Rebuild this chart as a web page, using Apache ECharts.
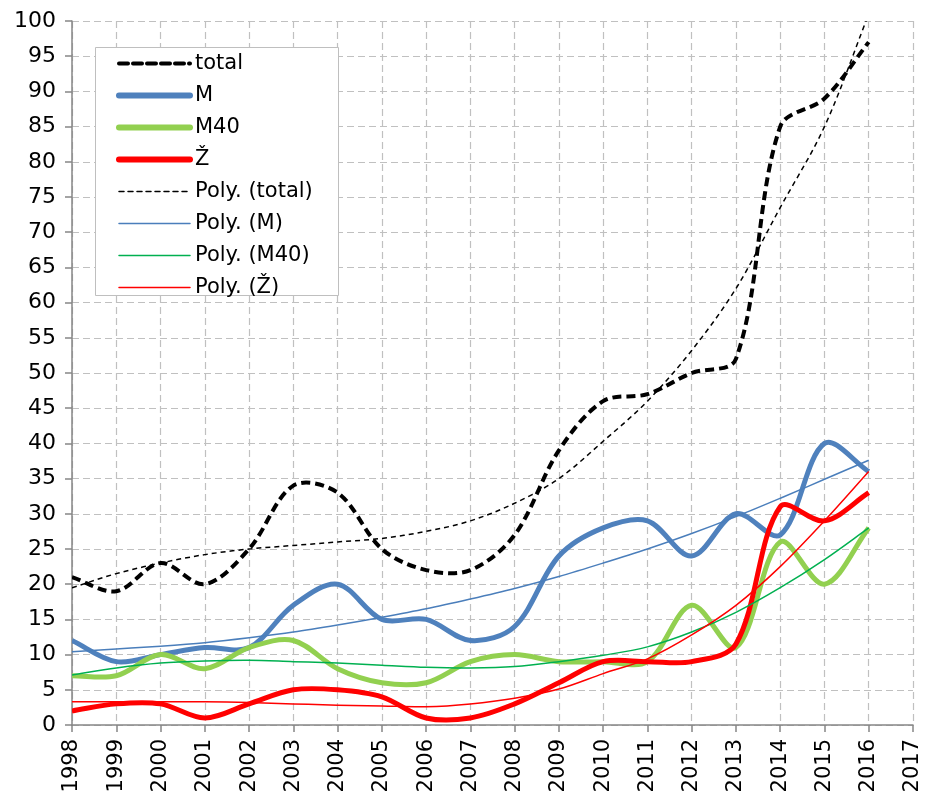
<!DOCTYPE html>
<html>
<head>
<meta charset="utf-8">
<script src="https://cdn.jsdelivr.net/npm/echarts@6/dist/echarts.min.js"></script>
<style>
  html, body { margin: 0; padding: 0; background: #fff; }
  #chart { width: 926px; height: 796px; }
</style>
</head>
<body>
<div id="chart"></div>
<script>
// years on the x axis (2017 has no data, only a tick)
const years = ['1998','1999','2000','2001','2002','2003','2004','2005','2006','2007',
  '2008','2009','2010','2011','2012','2013','2014','2015','2016','2017']

// values, 1998..2016
const total = [21, 19, 23, 20, 25, 34, 33, 25, 22, 22, 27, 39, 46, 47, 50, 52, 85, 89, 97]
const M     = [12, 9, 10, 11, 11, 17, 20, 15, 15, 12, 14, 24, 28, 29, 24, 30, 27, 40, 36]
const M40   = [7, 7, 10, 8, 11, 12, 8, 6, 6, 9, 10, 9, 9, 9, 17, 11, 26, 20, 28]
const Z     = [2, 3, 3, 1, 3, 5, 5, 4, 1, 1, 3, 6, 9, 9, 9, 11.5, 31, 29, 33]

// trend lines (Excel polynomial)
const polyTotal = [19.5, 21.5, 23, 24.2, 25, 25.5, 26, 26.5, 27.5, 29, 31.5, 35, 40.3, 46, 53.2, 62, 73.5, 85, 101]
const polyM     = [10.4, 10.8, 11.2, 11.7, 12.4, 13.2, 14.2, 15.3, 16.5, 17.9, 19.4, 21.1, 23, 25, 27.2, 29.6, 32.2, 34.9, 37.6]
const polyM40   = [7.1, 8.1, 8.8, 9.1, 9.2, 9.0, 8.8, 8.5, 8.2, 8.1, 8.3, 9.0, 9.9, 11.1, 13.2, 16, 19.5, 23.5, 28]
const polyZ     = [3.3, 3.3, 3.3, 3.3, 3.2, 3.0, 2.8, 2.7, 2.6, 3.0, 3.8, 5.1, 7.3, 9.4, 12.8, 17, 22.5, 29, 36]

const yTicks = { min: 0, max: 100, interval: 5 }

const font = 'DejaVu Sans'
const chart = echarts.init(document.getElementById('chart'), null, { renderer: 'canvas' })

function dist(a, b) {
  return Math.sqrt((a[0] - b[0]) * (a[0] - b[0]) + (a[1] - b[1]) * (a[1] - b[1]))
}

// Excel-like smoothed line: bezier through the points, tangent from the
// neighbours, weighted by segment lengths so long jumps do not overshoot
function curve(name, values, color, width, dash) {
  const t = 1 / 3
  return {
    name: name,
    type: 'custom',
    clip: true,
    silent: true,
    data: [[0, values[0]]],
    encode: { x: 0, y: 1 },
    renderItem(params, api) {
      const pts = values.map((v, i) => api.coord([i, v]))
      let d = 'M' + pts[0][0] + ',' + pts[0][1]
      for (let i = 0; i < pts.length - 1; i++) {
        const p0 = pts[i - 1] || pts[i]
        const p1 = pts[i]
        const p2 = pts[i + 1]
        const p3 = pts[i + 2] || p2
        const d01 = dist(p0, p1), d12 = dist(p1, p2), d23 = dist(p2, p3)
        const k1 = (d01 + d12) ? t * d12 / (d01 + d12) : 0
        const k2 = (d12 + d23) ? t * d12 / (d12 + d23) : 0
        const c1x = p1[0] + (p2[0] - p0[0]) * k1
        const c1y = p1[1] + (p2[1] - p0[1]) * k1
        const c2x = p2[0] - (p3[0] - p1[0]) * k2
        const c2y = p2[1] - (p3[1] - p1[1]) * k2
        d += ' C' + c1x + ',' + c1y + ' ' + c2x + ',' + c2y + ' ' + p2[0] + ',' + p2[1]
      }
      return {
        type: 'path',
        shape: { pathData: d },
        style: {
          fill: 'none', stroke: color, lineWidth: width,
          lineDash: dash || null, lineCap: 'butt', lineJoin: 'round'
        }
      }
    }
  }
}

// empty line series, only there so the legend gets line icons
function legendLine(name, color) {
  return {
    name: name, type: 'line', data: [], symbol: 'none',
    lineStyle: { color: color }, itemStyle: { color: color }
  }
}

const seriesDefs = [
  ['total', total, '#000000', 4, [9, 5]],
  ['M', M, '#4f81bd', 5, null],
  ['M40', M40, '#92d050', 5, null],
  ['Ž', Z, '#ff0000', 5, null],
  ['Poly. (total)', polyTotal, '#000000', 1.5, [5, 4]],
  ['Poly. (M)', polyM, '#4a7ebb', 1.5, null],
  ['Poly. (M40)', polyM40, '#00b050', 1.5, null],
  ['Poly. (Ž)', polyZ, '#ff0000', 1.5, null]
]

const series = []
seriesDefs.forEach(s => series.push(legendLine(s[0], s[2])))
seriesDefs.forEach(s => series.push(curve(s[0], s[1], s[2], s[3], s[4])))

chart.setOption({
  animation: false,
  textStyle: { fontFamily: font, color: '#000' },
  grid: { left: 72, right: 13, top: 21, bottom: 71, containLabel: false },
  graphic: [{
    type: 'rect',
    left: 95, top: 47, z: 50,
    shape: { width: 243, height: 248 },
    style: { fill: '#fff', stroke: '#bfbfbf', lineWidth: 1 }
  }],
  legend: {
    orient: 'vertical',
    left: 116, top: 53, z: 60,
    padding: 0,
    itemWidth: 71, itemHeight: 20, itemGap: 11,
    selectedMode: false,
    textStyle: { fontFamily: font, fontSize: 21, color: '#000', lineHeight: 20 },
    data: seriesDefs.map(s => ({
      name: s[0],
      itemStyle: { opacity: 0 },
      lineStyle: { width: s[3] === 5 ? 6 : s[3], type: s[4] || 'solid', color: s[2], cap: 'round' }
    }))
  },
  xAxis: {
    type: 'category',
    data: years,
    boundaryGap: false,
    axisLine: { lineStyle: { color: '#868686', width: 1.5 } },
    axisTick: { show: true, length: 7, lineStyle: { color: '#868686', width: 1.5 } },
    axisLabel: { rotate: 90, margin: 14, fontSize: 21, color: '#000', fontFamily: font },
    splitLine: { show: true, lineStyle: { color: '#c0c0c0', type: [7, 4], width: 1.2 } }
  },
  yAxis: {
    type: 'value',
    min: yTicks.min, max: yTicks.max, interval: yTicks.interval,
    axisLine: { show: true, lineStyle: { color: '#868686', width: 1.5 } },
    axisTick: { show: true, length: 7, lineStyle: { color: '#868686', width: 1.5 } },
    axisLabel: { margin: 16, fontSize: 22, color: '#000', fontFamily: font },
    splitLine: { show: true, lineStyle: { color: '#c0c0c0', type: [7, 4], width: 1.2 } }
  },
  series: series
})
</script>
</body>
</html>
